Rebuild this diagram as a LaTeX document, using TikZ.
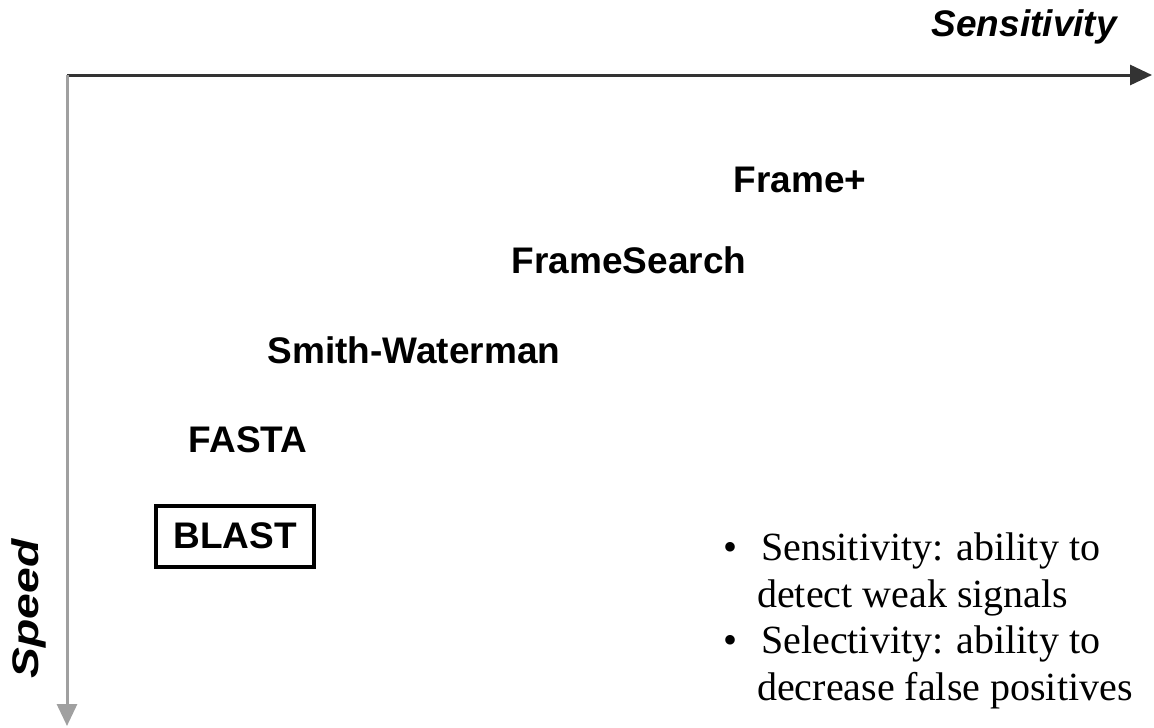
\documentclass[tikz,border=0pt]{standalone}
\usepackage{fontspec}
\usepackage{xcolor}
\usepackage{tikz}
\usetikzlibrary{arrows.meta}
\setmainfont{Liberation Serif}
\newfontfamily\labelfont{Liberation Sans}
\definecolor{AxisDark}{HTML}{333333}
\definecolor{AxisLight}{HTML}{A0A0A0}

\tikzset{
    tool/.style={font=\labelfont\bfseries\fontsize{37}{40}\selectfont, inner sep=0pt},
    axislabel/.style={font=\labelfont\bfseries\itshape\fontsize{37}{40}\selectfont, inner sep=0pt},
    axis/.style={line width=3pt, -{Triangle[length=22pt, width=20pt]}}
}

\begin{document}
\begin{tikzpicture}[x=1pt, y=-1pt]
        \useasboundingbox (0,0) rectangle (1154,728);
        \coordinate (O) at (67,75);
        \coordinate (SensEnd) at (1152,75);
        \coordinate (SpeedEnd) at (67,726);
        \node (Sens) [axislabel, anchor=base east] at (1117,36) {Sensitivity};
        \node (Speed) [axislabel, rotate=90, xscale=1.25] at (29,609) {Speed};
        \node (FramePlus) [tool] at (800,180) {Frame+};
        \node (FrameSearch) [tool] at (629,260) {FrameSearch};
        \node (SW) [tool] at (414,350) {Smith-Waterman};
        \node (FASTA) [tool] at (248,440) {FASTA};
        \node (BLAST) [tool, draw, line width=4pt, minimum width=158pt, minimum height=61pt] at (235,536) {BLAST};
        \node (Notes) [anchor=north west, align=left, inner sep=0pt, font=\fontsize{40}{46.5}\selectfont] at (723,533) {%
            \textbullet\hspace{24pt}Sensitivity: ability to\\
            \phantom{\textbullet}\hspace{20pt}detect weak signals\\
            \textbullet\hspace{24pt}Selectivity: ability to\\
            \phantom{\textbullet}\hspace{20pt}decrease false positives};
        \draw [axis, draw=AxisDark] (O) -- (SensEnd);
        \draw [axis, draw=AxisLight] (O) -- (SpeedEnd);
    \end{tikzpicture}
\end{document}
